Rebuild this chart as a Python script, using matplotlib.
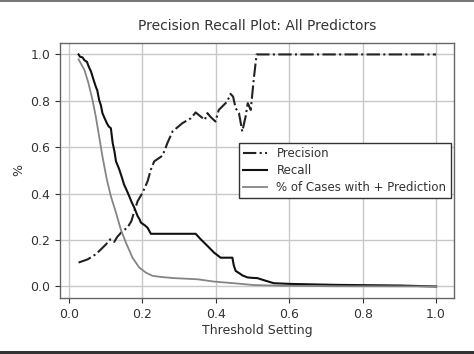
import matplotlib
matplotlib.use("Agg")
import matplotlib.pyplot as plt
from matplotlib.patches import Rectangle

# Precision (dash-dot)
prec_x = [0.026, 0.051, 0.073, 0.087, 0.101, 0.112, 0.123, 0.132, 0.146, 0.159, 0.170, 0.178,
          0.187, 0.200, 0.214, 0.223, 0.232, 0.255, 0.268, 0.282, 0.309, 0.332, 0.345, 0.359,
          0.370, 0.377, 0.386, 0.399, 0.408, 0.417, 0.431, 0.440, 0.447, 0.454, 0.463, 0.472,
          0.481, 0.487, 0.495, 0.504, 0.511, 1.0]
prec_y = [0.103, 0.117, 0.139, 0.160, 0.182, 0.203, 0.192, 0.215, 0.239, 0.253, 0.282, 0.325,
          0.368, 0.403, 0.453, 0.504, 0.539, 0.564, 0.618, 0.668, 0.704, 0.725, 0.750, 0.732,
          0.718, 0.747, 0.730, 0.711, 0.761, 0.775, 0.797, 0.830, 0.818, 0.768, 0.747, 0.668,
          0.732, 0.790, 0.761, 0.904, 1.0, 1.0]

# Recall (solid black)
rec_x = [0.026, 0.030, 0.037, 0.042, 0.049, 0.053, 0.060, 0.066, 0.073, 0.077, 0.082, 0.087,
         0.091, 0.097, 0.103, 0.108, 0.114, 0.119, 0.124, 0.128, 0.133, 0.137, 0.144, 0.150,
         0.157, 0.164, 0.171, 0.178, 0.187, 0.192, 0.196, 0.207, 0.214, 0.223, 0.345, 0.359,
         0.377, 0.395, 0.413, 0.445, 0.449, 0.454, 0.463, 0.472, 0.486, 0.500, 0.513, 0.535,
         0.558, 0.603, 0.721, 0.902, 1.0]
rec_y = [1.0, 0.990, 0.987, 0.975, 0.968, 0.950, 0.926, 0.895, 0.861, 0.845, 0.804, 0.780,
         0.747, 0.725, 0.704, 0.690, 0.682, 0.618, 0.580, 0.539, 0.520, 0.504, 0.470, 0.439,
         0.415, 0.389, 0.362, 0.339, 0.303, 0.290, 0.275, 0.263, 0.253, 0.227, 0.227, 0.203,
         0.175, 0.146, 0.124, 0.124, 0.090, 0.067, 0.058, 0.048, 0.039, 0.037, 0.036, 0.025,
         0.014, 0.011, 0.007, 0.004, 0.0]

# % of cases with + prediction (gray)
pct_x = [0.026, 0.042, 0.053, 0.064, 0.073, 0.082, 0.091, 0.103, 0.114, 0.128, 0.141, 0.155,
         0.173, 0.191, 0.209, 0.227, 0.250, 0.286, 0.350, 0.395, 0.449, 0.504, 0.585, 0.721, 1.0]
pct_y = [0.979, 0.933, 0.876, 0.804, 0.732, 0.647, 0.561, 0.461, 0.389, 0.318, 0.246, 0.189,
         0.124, 0.082, 0.060, 0.046, 0.041, 0.036, 0.031, 0.021, 0.014, 0.006, 0.003, 0.001, 0.0]

title = "Precision Recall Plot: All Predictors"
xlabel = "Threshold Setting"
ylabel = "%"
labels = ["Precision", "Recall", "% of Cases with + Prediction"]

plt.rcParams['font.family'] = ['DejaVu Sans']
fig = plt.figure(figsize=(4.74, 3.54), dpi=100)
ax = fig.add_axes([0.127, 0.158, 0.831, 0.721])

ax.plot(prec_x, prec_y, color='#222222', linestyle='-.', linewidth=1.5, label=labels[0])
ax.plot(rec_x, rec_y, color='#111111', linestyle='-', linewidth=1.5, label=labels[1])
ax.plot(pct_x, pct_y, color='#858585', linestyle='-', linewidth=1.3, label=labels[2])

ax.set_xlim(-0.024, 1.049)
ax.set_ylim(-0.05, 1.05)
ax.set_xticks([0.0, 0.2, 0.4, 0.6, 0.8, 1.0])
ax.set_yticks([0.0, 0.2, 0.4, 0.6, 0.8, 1.0])
ax.grid(True, color='#c8c8c8', linewidth=1.0)
ax.set_axisbelow(True)
for s in ax.spines.values():
    s.set_color('#666666')
    s.set_linewidth(1.0)
ax.tick_params(labelsize=9, colors='#333333', length=3.5)
ax.set_title(title, fontsize=10, color='#333333', pad=9)
ax.set_xlabel(xlabel, fontsize=9, color='#333333', labelpad=2)
ax.set_ylabel(ylabel, fontsize=9, color='#333333')

leg = ax.legend(loc='center right', fontsize=8.5, fancybox=False, framealpha=1.0,
                edgecolor='#333333', borderaxespad=0.3, labelspacing=0.35,
                borderpad=0.35)
leg.get_frame().set_linewidth(1.0)
for t in leg.get_texts():
    t.set_color('#333333')

fig.patches.append(Rectangle((0, 1 - 2/354), 1, 2/354, transform=fig.transFigure,
                             facecolor='#777777', edgecolor='none'))
fig.patches.append(Rectangle((0, 0), 1, 3/354, transform=fig.transFigure,
                             facecolor='#333333', edgecolor='none'))

fig.savefig('out.png', dpi=100)
